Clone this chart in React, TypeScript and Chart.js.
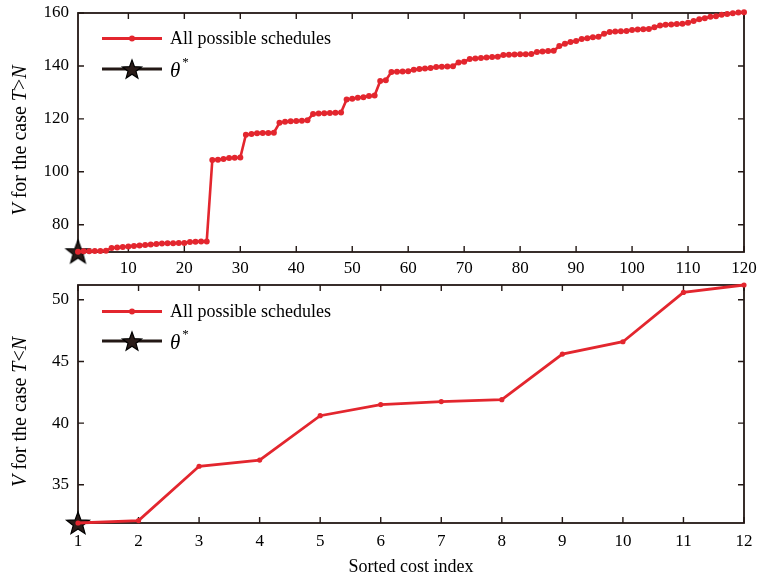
import React, { useEffect, useRef } from 'react';
import { Chart, registerables } from 'chart.js';
Chart.register(...registerables);

// ---------- data ----------
const topIndex: number[] = Array.from({ length: 120 }, (_, i) => i + 1);
const topValues: number[] = [
  69.8, 70.0, 70.0, 70.1, 70.1, 70.2, 71.2, 71.4, 71.6, 71.8,
  72.0, 72.2, 72.3, 72.5, 72.7, 72.9, 73.0, 73.0, 73.1, 73.1,
  73.5, 73.6, 73.7, 73.7, 104.5, 104.6, 104.8, 105.2, 105.3, 105.4,
  114.0, 114.3, 114.6, 114.7, 114.7, 114.8, 118.5, 118.9, 119.1, 119.2,
  119.3, 119.5, 121.8, 122.0, 122.1, 122.2, 122.3, 122.4, 127.3, 127.6,
  128.0, 128.2, 128.6, 128.8, 134.3, 134.6, 137.7, 137.8, 137.9, 138.0,
  138.6, 138.8, 139.0, 139.2, 139.6, 139.7, 139.8, 139.9, 141.3, 141.6,
  142.6, 142.8, 143.0, 143.2, 143.4, 143.5, 144.1, 144.2, 144.3, 144.4,
  144.4, 144.5, 145.3, 145.5, 145.6, 145.7, 147.5, 148.4, 149.0, 149.4,
  150.2, 150.5, 150.8, 151.0, 152.2, 152.8, 153.0, 153.1, 153.2, 153.6,
  153.8, 153.9, 154.0, 154.6, 155.3, 155.6, 155.7, 155.8, 155.9, 156.3,
  157.0, 157.6, 158.0, 158.6, 158.8, 159.3, 159.6, 159.9, 160.2, 160.3,
];
const topXTicks = [10, 20, 30, 40, 50, 60, 70, 80, 90, 100, 110, 120];
const topYTicks = [80, 100, 120, 140, 160];

const bottomIndex = [1, 2, 3, 4, 5, 6, 7, 8, 9, 10, 11, 12];
const bottomValues = [31.9, 32.1, 36.5, 37.0, 40.6, 41.5, 41.75, 41.9, 45.6, 46.6, 50.6, 51.2];
const bottomXTicks = [1, 2, 3, 4, 5, 6, 7, 8, 9, 10, 11, 12];
const bottomYTicks = [35, 40, 45, 50];

const legendSeries = 'All possible schedules';
const legendOptimum = 'θ';
const xAxisTitle = 'Sorted cost index';
const topYTitle: [string, boolean][] = [['V', true], [' for the case ', false], ['T', true], ['>', false], ['N', true]];
const bottomYTitle: [string, boolean][] = [['V', true], [' for the case ', false], ['T', true], ['<', false], ['N', true]];

// ---------- styles ----------
const RED = '#e3262e';
const DARK = '#231815';
const FONT = '"Liberation Serif", "Times New Roman", serif';

function makeStar(r: number) {
  const s = Math.ceil(r * 2 + 4);
  const c = document.createElement('canvas');
  c.width = s;
  c.height = s;
  const ctx = c.getContext('2d')!;
  const cx = s / 2, cy = s / 2 + 1;
  ctx.beginPath();
  for (let i = 0; i < 10; i++) {
    const rad = i % 2 === 0 ? r : r * 0.42;
    const a = -Math.PI / 2 + (i * Math.PI) / 5;
    const x = cx + rad * Math.cos(a), y = cy + rad * Math.sin(a);
    if (i === 0) ctx.moveTo(x, y); else ctx.lineTo(x, y);
  }
  ctx.closePath();
  ctx.fillStyle = '#2a1c19';
  ctx.fill();
  ctx.lineWidth = 1.2;
  ctx.strokeStyle = '#000';
  ctx.stroke();
  return c;
}

const decorPlugin = {
  id: 'decor',
  beforeDatasetsDraw(chart: any) {
    const { ctx, chartArea: a, scales } = chart;
    ctx.save();
    ctx.strokeStyle = DARK;
    ctx.lineWidth = 1.8;
    ctx.strokeRect(a.left, a.top, a.right - a.left, a.bottom - a.top);
    const tl = 6;
    ctx.lineWidth = 1.4;
    ctx.beginPath();
    scales.x.ticks.forEach((t: any) => {
      const px = scales.x.getPixelForValue(t.value);
      ctx.moveTo(px, a.bottom); ctx.lineTo(px, a.bottom - tl);
      ctx.moveTo(px, a.top); ctx.lineTo(px, a.top + tl);
    });
    scales.y.ticks.forEach((t: any) => {
      const py = scales.y.getPixelForValue(t.value);
      ctx.moveTo(a.left, py); ctx.lineTo(a.left + tl, py);
      ctx.moveTo(a.right, py); ctx.lineTo(a.right - tl, py);
    });
    ctx.stroke();
    ctx.restore();
  },
  afterDraw(chart: any) {
    const o = chart.options.plugins.decor;
    const { ctx, chartArea: a } = chart;
    ctx.save();
    // y title
    ctx.translate(21, (a.top + a.bottom) / 2 + 8);
    ctx.rotate(-Math.PI / 2);
    ctx.fillStyle = '#000';
    ctx.textBaseline = 'middle';
    const fnt = (it: boolean) => `${it ? 'italic ' : ''}20px ${FONT}`;
    let total = 0;
    o.yTitle.forEach(([s, it]: [string, boolean]) => { ctx.font = fnt(it); total += ctx.measureText(s).width; });
    let x0 = -total / 2;
    o.yTitle.forEach(([s, it]: [string, boolean]) => {
      ctx.font = fnt(it);
      ctx.fillText(s, x0, 0);
      x0 += ctx.measureText(s).width;
    });
    ctx.restore();

    // legend
    ctx.save();
    const y1 = o.legendY1, y2 = o.legendY2;
    ctx.strokeStyle = RED;
    ctx.lineWidth = 2.8;
    ctx.beginPath(); ctx.moveTo(102, y1); ctx.lineTo(162, y1); ctx.stroke();
    ctx.fillStyle = RED;
    ctx.beginPath(); ctx.arc(132, y1, 3, 0, Math.PI * 2); ctx.fill();
    ctx.fillStyle = '#000';
    ctx.textBaseline = 'middle';
    ctx.font = `18px ${FONT}`;
    ctx.fillText(legendSeries, 170, y1 + 1);

    ctx.strokeStyle = DARK;
    ctx.lineWidth = 2.8;
    ctx.beginPath(); ctx.moveTo(102, y2); ctx.lineTo(162, y2); ctx.stroke();
    const st = o.legendStar as HTMLCanvasElement;
    ctx.drawImage(st, 132 - st.width / 2, y2 - st.height / 2);
    ctx.font = `italic 21px ${FONT}`;
    ctx.fillText(legendOptimum, 170, y2 + 2);
    const w = ctx.measureText(legendOptimum).width;
    ctx.font = `13px ${FONT}`;
    ctx.fillText('*', 170 + w + 2, y2 - 6);
    ctx.restore();
  },
};

type Cfg = {
  xs: number[]; ys: number[]; xTicks: number[]; yTicks: number[];
  xMin: number; xMax: number; yMin: number; yMax: number;
  pointRadius: number; lineWidth: number; xAxisHeight: number; showTitle: boolean; xPad: number;
  yTitle: [string, boolean][]; legendY1: number; legendY2: number; starR: number;
};

function buildChart(canvas: HTMLCanvasElement, c: Cfg) {
  const star = makeStar(c.starR);
  const legendStar = makeStar(10);
  return new Chart(canvas, {
    type: 'line',
    data: {
      datasets: [
        {
          label: legendSeries,
          data: c.xs.map((x, i) => ({ x, y: c.ys[i] })),
          borderColor: RED,
          backgroundColor: RED,
          borderWidth: c.lineWidth,
          pointRadius: c.pointRadius,
          pointBorderWidth: 0,
          pointBackgroundColor: RED,
          tension: 0,
          clip: false as any,
          order: 0,
        },
        {
          label: legendOptimum,
          data: [{ x: c.xs[0], y: c.ys[0] }],
          showLine: false,
          pointStyle: star as any,
          pointRadius: c.starR,
          borderColor: DARK,
          backgroundColor: DARK,
          clip: false as any,
          order: 1,
        },
      ],
    },
    options: {
      responsive: false,
      animation: false,
      events: [],
      layout: { autoPadding: false, padding: { top: 13, right: 13, left: 0, bottom: 0 } },
      plugins: {
        legend: { display: false },
        tooltip: { enabled: false },
        decor: { yTitle: c.yTitle, legendY1: c.legendY1, legendY2: c.legendY2, legendStar },
      } as any,
      scales: {
        x: {
          type: 'linear',
          min: c.xMin,
          max: c.xMax,
          grid: { display: false, drawTicks: false },
          border: { display: false },
          afterBuildTicks: (s: any) => { s.ticks = c.xTicks.map((v) => ({ value: v })); },
          afterFit: (s: any) => { s.height = c.xAxisHeight; s.paddingLeft = 0; s.paddingRight = 0; },
          ticks: { font: { family: FONT, size: 17 }, color: '#000', padding: c.xPad, maxRotation: 0, autoSkip: false },
          title: {
            display: c.showTitle,
            text: xAxisTitle,
            font: { family: FONT, size: 18 },
            color: '#000',
            padding: { top: 0, bottom: 0 },
          },
        },
        y: {
          type: 'linear',
          min: c.yMin,
          max: c.yMax,
          grid: { display: false, drawTicks: false },
          border: { display: false },
          afterBuildTicks: (s: any) => { s.ticks = c.yTicks.map((v) => ({ value: v })); },
          afterFit: (s: any) => { s.width = 78; s.paddingTop = 0; s.paddingBottom = 0; },
          ticks: { font: { family: FONT, size: 17 }, color: '#000', padding: 9 },
        },
      },
    },
    plugins: [decorPlugin],
  } as any);
}

export default function App() {
  const topRef = useRef<HTMLCanvasElement>(null);
  const botRef = useRef<HTMLCanvasElement>(null);

  useEffect(() => {
    const c1 = buildChart(topRef.current!, {
      xs: topIndex, ys: topValues, xTicks: topXTicks, yTicks: topYTicks,
      xMin: 1, xMax: 120, yMin: 69.7, yMax: 160,
      pointRadius: 3, lineWidth: 2.6, xAxisHeight: 28, showTitle: false, xPad: 6,
      yTitle: topYTitle, legendY1: 38.5, legendY2: 69, starR: 12.5,
    });
    const c2 = buildChart(botRef.current!, {
      xs: bottomIndex, ys: bottomValues, xTicks: bottomXTicks, yTicks: bottomYTicks,
      xMin: 1, xMax: 12, yMin: 31.9, yMax: 51.2,
      pointRadius: 2.6, lineWidth: 2.8, xAxisHeight: 55, showTitle: true, xPad: 8,
      yTitle: bottomYTitle, legendY1: 39.5, legendY2: 69, starR: 12,
    });
    return () => { c1.destroy(); c2.destroy(); };
  }, []);

  return (
    <div style={{ position: 'absolute', left: 0, top: 0, width: 757, height: 578, background: '#fff' }}>
      <canvas ref={topRef} width={757} height={280} style={{ position: 'absolute', left: 0, top: 0, display: 'block' }} />
      <canvas ref={botRef} width={757} height={306} style={{ position: 'absolute', left: 0, top: 272, display: 'block' }} />
    </div>
  );
}
